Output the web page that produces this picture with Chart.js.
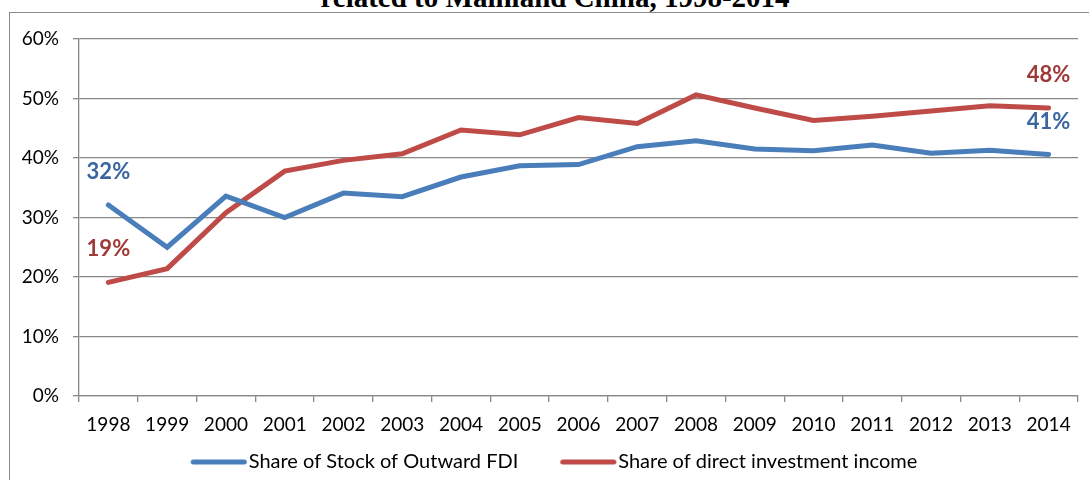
<!DOCTYPE html>
<html>
<head>
<meta charset="utf-8">
<script src="https://cdn.jsdelivr.net/npm/chart.js@4"></script>
<style>
  body { margin: 0; background: #fff; overflow: hidden; }
  #frame { position: absolute; left: 9px; top: 12px; width: 1200px; height: 600px; border: 1.5px solid #8a8a8a; }
  #title { position: absolute; left: 0; top: -17px; width: 1110px; text-align: center;
           font: bold 29px "Liberation Serif", serif; line-height: 29px; color: #000; white-space: nowrap; }
  #wrap { position: absolute; left: 0; top: 0; width: 1089px; height: 480px; }
</style>
</head>
<body>
<div id="frame"></div>
<div id="title">related to Mainland China, 1998-2014</div>
<div id="wrap"><canvas id="chart" width="1089" height="480"></canvas></div>
<script>
const years = ["1998","1999","2000","2001","2002","2003","2004","2005","2006","2007","2008","2009","2010","2011","2012","2013","2014"];
const stockShare = [32.1, 25.0, 33.6, 30.0, 34.1, 33.5, 36.8, 38.7, 38.9, 41.9, 42.9, 41.5, 41.2, 42.2, 40.8, 41.3, 40.6];
const incomeShare = [19.1, 21.4, 30.8, 37.8, 39.6, 40.7, 44.7, 43.9, 46.8, 45.8, 50.6, 48.4, 46.3, 47.0, 47.9, 48.8, 48.4];
const yTicks = [0, 10, 20, 30, 40, 50, 60];
const seriesNames = ["Share of Stock of Outward FDI", "Share of direct investment income"];

const font = "Lato";
const legendBox = 78;

// legend swatch: thick line sitting right next to the text, space on the left
function legendLine(color) {
  const c = document.createElement("canvas");
  c.width = legendBox + 18;
  c.height = 8;
  const g = c.getContext("2d");
  g.strokeStyle = color;
  g.lineWidth = 5;
  g.lineCap = "round";
  g.beginPath();
  g.moveTo(c.width - 57 + 2.5, 4);
  g.lineTo(c.width - 1 - 2.5, 4);
  g.stroke();
  return c;
}

// end labels on first and last points
const endLabels = {
  id: "endLabels",
  afterDatasetsDraw(chart) {
    const ctx = chart.ctx;
    ctx.save();
    ctx.font = "bold 22px " + font;
    ctx.textAlign = "center";
    ctx.textBaseline = "middle";
    chart.data.datasets.forEach((ds, i) => {
      const meta = chart.getDatasetMeta(i);
      [0, ds.data.length - 1].forEach(j => {
        const pt = meta.data[j];
        ctx.fillStyle = ds.labelColor;
        ctx.fillText(Math.round(ds.data[j]) + "%", pt.x, pt.y - 33);
      });
    });
    ctx.restore();
  }
};

new Chart(document.getElementById("chart"), {
  type: "line",
  data: {
    labels: years,
    datasets: [
      { label: seriesNames[0], data: stockShare, borderColor: "#4a7ebb", backgroundColor: "#4a7ebb",
        labelColor: "#3a65a0", borderWidth: 5, pointRadius: 0, tension: 0, borderCapStyle: "round",
        pointStyle: legendLine("#4a7ebb") },
      { label: seriesNames[1], data: incomeShare, borderColor: "#be4b48", backgroundColor: "#be4b48",
        labelColor: "#9e3936", borderWidth: 5, pointRadius: 0, tension: 0, borderCapStyle: "round",
        pointStyle: legendLine("#be4b48") }
    ]
  },
  options: {
    responsive: false,
    animation: false,
    devicePixelRatio: 1,
    layout: { padding: { top: 39, right: 11, left: 0, bottom: -2 } },
    plugins: {
      tooltip: { enabled: false },
      legend: {
        position: "bottom",
        labels: {
          usePointStyle: true, pointStyleWidth: legendBox,
          font: { family: font, size: 20 }, color: "#000", padding: 12
        }
      }
    },
    scales: {
      x: {
        offset: true,
        grid: { offset: true, drawOnChartArea: false, color: "#888", lineWidth: 1.3, tickLength: 6 },
        border: { color: "#888", width: 1.3 },
        ticks: { font: { family: font, size: 19 }, color: "#000", padding: 11, maxRotation: 0, autoSkip: false },
        afterFit(s) { s.height = 44; }
      },
      y: {
        min: 0, max: 60,
        afterBuildTicks(s) { s.ticks = yTicks.map(v => ({ value: v })); },
        grid: { color: "#888", lineWidth: 1.3, tickLength: 6 },
        border: { color: "#888", width: 1.3 },
        ticks: { font: { family: font, size: 19 }, color: "#000", padding: 14, callback: v => v + "%" },
        afterFit(s) { s.width = 79; }
      }
    }
  },
  plugins: [endLabels]
});
</script>
</body>
</html>
